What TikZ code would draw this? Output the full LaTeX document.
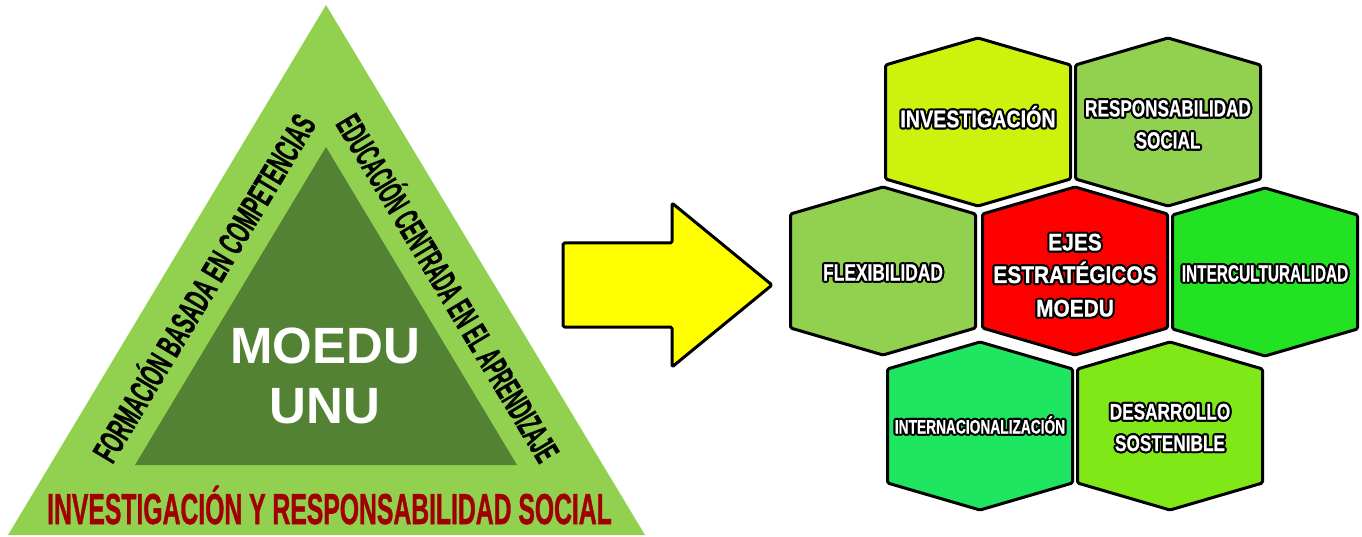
\documentclass[tikz,border=0pt]{standalone}
\usepackage{fontspec}
\setmainfont{Liberation Sans}
\newfontfamily\heavy[FakeBold=1.2]{Liberation Sans Bold}
\newfontfamily\hexfont[FakeBold=0.8]{Liberation Sans Bold}
\usepackage{graphicx}
\definecolor{lgreen}{RGB}{146,208,80}
\definecolor{dgreen}{RGB}{84,130,53}
\definecolor{dred}{RGB}{160,0,0}
\definecolor{hinv}{RGB}{204,242,14}
\definecolor{hint}{RGB}{35,225,35}
\definecolor{hinn}{RGB}{30,230,96}
\definecolor{hdes}{RGB}{128,232,22}
\definecolor{ayel}{RGB}{255,255,0}
\newcommand\hexagon[3]{%
  \draw[hexe, fill=#3] (#1,#2-84) -- (#1+92.5,#2-57) -- (#1+92.5,#2+57) -- (#1,#2+84) -- (#1-92.5,#2+57) -- (#1-92.5,#2-57) -- cycle;}
% outlined text: name, x, y, style, text
\newcommand\otext[5]{%
  \foreach \a in {0,30,...,330}{\node[#4, text=black] at ({#2+2.1*cos(\a)},{#3+2.1*sin(\a)}) {#5};}
  \node[#4, text=white] (#1) at (#2,#3) {#5};}
\tikzset{
  hexe/.style={draw=black, line width=3pt, line join=round, rounded corners=1.5pt},
  htxt/.style={inner sep=0pt, text height=#1, text depth=0pt, anchor=center},
  sidetxt/.style={inner sep=0pt, text height=25pt, text depth=0pt, anchor=center, text=black,
     font=\fontsize{35}{40}\heavy},
}
\begin{document}
\begin{tikzpicture}[x=1pt,y=-1pt]
\useasboundingbox (0,0) rectangle (1362,537);
% triangle
\fill[lgreen] (8,535) -- (326,5) -- (645,535) -- cycle;
\fill[dgreen] (135,465) -- (326,147) -- (517,465) -- cycle;
\node[htxt=36.5pt, text=white, font=\fontsize{51}{56}\selectfont\bfseries] (moedu) at (325,345) {MOEDU};
\node[htxt=36.5pt, text=white, font=\fontsize{51}{56}\selectfont\bfseries] (unu) at (325,405) {UNU};
\node[sidetxt, rotate=59.04] (formacion) at (204,288) {\scalebox{0.548}[1]{FORMACIÓN BASADA EN COMPETENCIAS}};
\node[sidetxt, rotate=-59.04] (educacion) at (448,288) {\scalebox{0.505}[1]{EDUCACIÓN CENTRADA EN EL APRENDIZAJE}};
\node[inner sep=0pt, text height=31pt, text depth=0pt, text=dred, font=\fontsize{43.3}{48}\heavy] (invres) at (329.5,508.5) {\scalebox{0.571}[1]{INVESTIGACIÓN Y RESPONSABILIDAD SOCIAL}};
% arrow
\draw[draw=black, line width=3pt, line join=round, rounded corners=1.5pt, fill=ayel]
  (563,243) -- (672,243) -- (672,203) -- (772,285) -- (672,367) -- (672,327) -- (563,327) -- cycle;
% hexagons
\hexagon{978}{122}{hinv}
\hexagon{1168}{122}{lgreen}
\hexagon{883}{271}{lgreen}
\hexagon{1075}{271}{red}
\hexagon{1265}{272}{hint}
\hexagon{980}{426}{hinn}
\hexagon{1170}{426}{hdes}
% hexagon texts
\otext{t-inv}{978}{118.5}{htxt=17.5pt, font=\fontsize{24}{28}\hexfont}{\scalebox{0.82}[1]{INVESTIGACIÓN}}
\otext{t-res1}{1168}{108}{htxt=17pt, font=\fontsize{23.5}{28}\hexfont}{\scalebox{0.73}[1]{RESPONSABILIDAD}}
\otext{t-res2}{1168}{140}{htxt=17pt, font=\fontsize{23.5}{28}\hexfont}{\scalebox{0.73}[1]{SOCIAL}}
\otext{t-flex}{883}{272}{htxt=17pt, font=\fontsize{23.5}{28}\hexfont}{\scalebox{0.74}[1]{FLEXIBILIDAD}}
\otext{t-ejes1}{1075}{242}{htxt=17pt, font=\fontsize{24}{28}\hexfont}{\scalebox{0.87}[1]{EJES}}
\otext{t-ejes2}{1075}{274.5}{htxt=17pt, font=\fontsize{24}{28}\hexfont}{\scalebox{0.87}[1]{ESTRATÉGICOS}}
\otext{t-ejes3}{1075}{308}{htxt=17pt, font=\fontsize{24}{28}\hexfont}{\scalebox{0.87}[1]{MOEDU}}
\otext{t-interc}{1265}{273}{htxt=17pt, font=\fontsize{23.5}{28}\hexfont}{\scalebox{0.655}[1]{INTERCULTURALIDAD}}
\otext{t-intern}{980}{426.5}{htxt=14pt, font=\fontsize{19.5}{24}\hexfont}{\scalebox{0.705}[1]{INTERNACIONALIZACIÓN}}
\otext{t-des1}{1170}{411.5}{htxt=16pt, font=\fontsize{22.5}{27}\hexfont}{\scalebox{0.765}[1]{DESARROLLO}}
\otext{t-des2}{1170}{443}{htxt=16pt, font=\fontsize{22.5}{27}\hexfont}{\scalebox{0.765}[1]{SOSTENIBLE}}
\end{tikzpicture}
\end{document}
